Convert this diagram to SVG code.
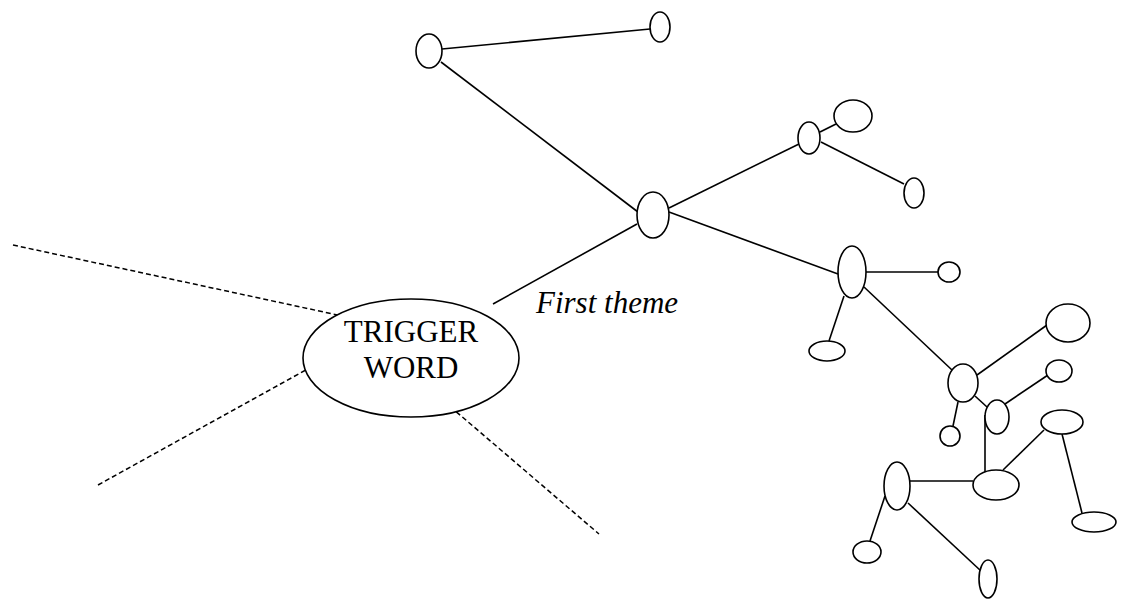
<svg xmlns="http://www.w3.org/2000/svg" width="1122" height="599" viewBox="0 0 1122 599">
  <style>
    .node { fill: #ffffff; stroke: #000000; stroke-width: 1.6; }
    .edge { fill: none; stroke: #000000; stroke-width: 1.6; }
    .dash { fill: none; stroke: #000000; stroke-width: 1.5; stroke-dasharray: 5 3; }
    .label { font-family: "Liberation Serif", "Times New Roman", serif; font-size: 31px; fill: #000000; }
  </style>
  <rect width="1122" height="599" fill="#ffffff"/>

  <!-- connectors -->
  <g id="connectors">
    <!-- dotted branches leaving the trigger word -->
    <line class="dash" x1="13" y1="245" x2="347" y2="317"/>
    <line class="dash" x1="98" y1="485" x2="313" y2="366"/>
    <line class="dash" x1="432" y1="391" x2="599" y2="534"/>
    <!-- first theme branch -->
    <line class="edge" x1="493" y1="304" x2="637" y2="224"/>
    <line class="edge" x1="441" y1="62" x2="638" y2="212"/>
    <line class="edge" x1="442" y1="49" x2="650" y2="29"/>
    <line class="edge" x1="669" y1="208" x2="799" y2="144"/>
    <line class="edge" x1="820" y1="132" x2="836" y2="124"/>
    <line class="edge" x1="821" y1="142" x2="904" y2="184"/>
    <line class="edge" x1="669" y1="212" x2="838" y2="274"/>
    <line class="edge" x1="866" y1="272" x2="938" y2="272"/>
    <line class="edge" x1="844" y1="296" x2="829" y2="341"/>
    <line class="edge" x1="864" y1="287" x2="952" y2="370"/>
    <line class="edge" x1="977" y1="375" x2="1047" y2="325"/>
    <line class="edge" x1="975" y1="396" x2="987" y2="407"/>
    <line class="edge" x1="958" y1="402" x2="953" y2="426"/>
    <line class="edge" x1="1005" y1="404" x2="1048" y2="375"/>
    <line class="edge" x1="985" y1="415" x2="985" y2="472"/>
    <line class="edge" x1="1003" y1="470" x2="1044" y2="430"/>
    <line class="edge" x1="1062" y1="434" x2="1082" y2="513"/>
    <line class="edge" x1="910" y1="481" x2="973" y2="481"/>
    <line class="edge" x1="885" y1="496" x2="870" y2="541"/>
    <line class="edge" x1="908" y1="503" x2="981" y2="571"/>
  </g>

  <!-- central idea -->
  <g id="trigger">
    <ellipse class="node" cx="411" cy="358" rx="108" ry="59"/>
    <text class="label" x="411" y="342" text-anchor="middle">TRIGGER</text>
    <text class="label" x="411" y="378" text-anchor="middle">WORD</text>
  </g>

  <g id="first-theme-label">
    <text class="label" x="536" y="313" font-style="italic">First theme</text>
  </g>

  <!-- theme nodes -->
  <g id="node-a"><ellipse class="node" cx="429" cy="51" rx="13" ry="17"/></g>
  <g id="node-b"><ellipse class="node" cx="660" cy="27" rx="10" ry="15"/></g>
  <g id="node-c"><ellipse class="node" cx="653" cy="215" rx="16" ry="23"/></g>
  <g id="node-d"><ellipse class="node" cx="809" cy="138" rx="11" ry="16"/></g>
  <g id="node-e"><ellipse class="node" cx="853" cy="116" rx="19" ry="16"/></g>
  <g id="node-f"><ellipse class="node" cx="914" cy="193" rx="10" ry="15"/></g>
  <g id="node-g"><ellipse class="node" cx="852" cy="272" rx="14" ry="26"/></g>
  <g id="node-h"><ellipse class="node" cx="949" cy="272" rx="11" ry="10"/></g>
  <g id="node-i"><ellipse class="node" cx="827" cy="351" rx="18" ry="10"/></g>
  <g id="node-j"><ellipse class="node" cx="963" cy="383" rx="15" ry="19"/></g>
  <g id="node-k"><ellipse class="node" cx="1068" cy="323" rx="22" ry="19"/></g>
  <g id="node-l"><ellipse class="node" cx="1059" cy="371" rx="13" ry="11"/></g>
  <g id="node-m"><ellipse class="node" cx="997" cy="417" rx="12" ry="17"/></g>
  <g id="node-n"><ellipse class="node" cx="950" cy="436" rx="10" ry="10"/></g>
  <g id="node-o"><ellipse class="node" cx="996" cy="485" rx="23" ry="15"/></g>
  <g id="node-p"><ellipse class="node" cx="1062" cy="422" rx="21" ry="12"/></g>
  <g id="node-q"><ellipse class="node" cx="1094" cy="522" rx="22" ry="10"/></g>
  <g id="node-r"><ellipse class="node" cx="897" cy="486" rx="13" ry="24"/></g>
  <g id="node-s"><ellipse class="node" cx="867" cy="552" rx="14" ry="11"/></g>
  <g id="node-t"><ellipse class="node" cx="988" cy="579" rx="9" ry="19"/></g>
</svg>
